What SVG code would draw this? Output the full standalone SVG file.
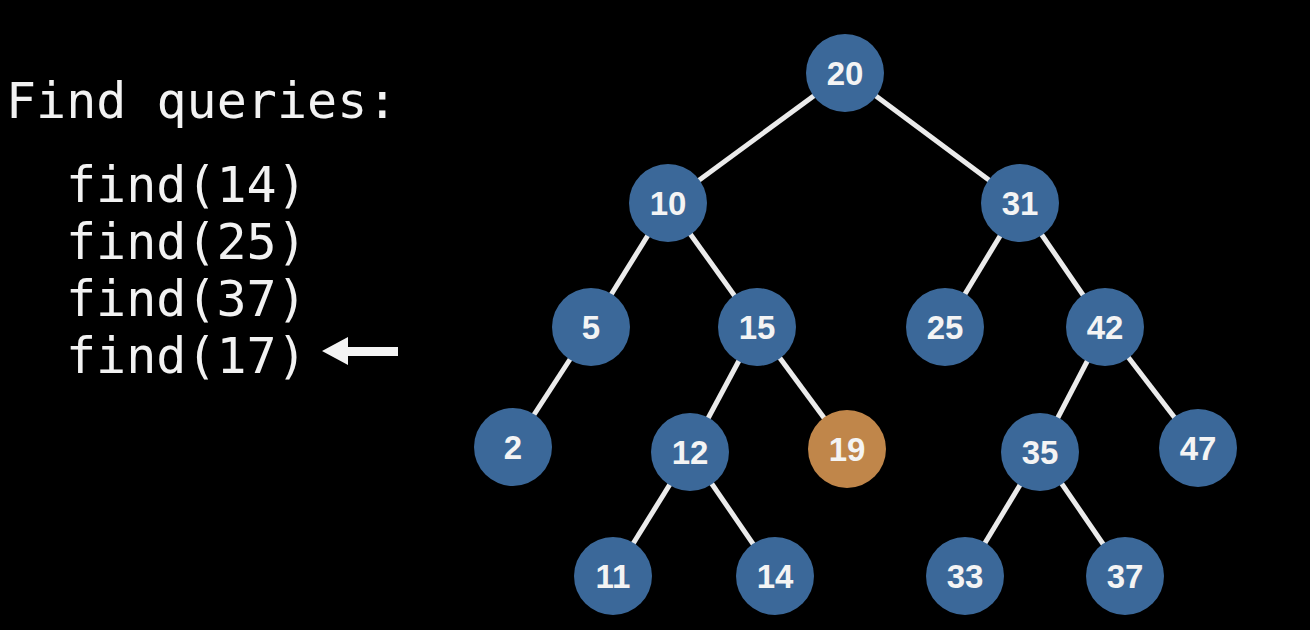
<svg xmlns="http://www.w3.org/2000/svg" width="1310" height="630" viewBox="0 0 1310 630">
  <style>
    .code { font-family: "DejaVu Sans Mono", "Liberation Mono", monospace; font-size: 50px; fill: #f2f2f2; }
    .edge { stroke: #ebebeb; stroke-width: 5; stroke-linecap: butt; }
    .node circle { fill: #3b6899; }
    .node.hit circle { fill: #c0864a; }
    .node text { font-family: "Liberation Sans", Arial, sans-serif; font-weight: bold; font-size: 33px; fill: #f4f4f4; text-anchor: middle; }
  </style>
  <rect width="1310" height="630" fill="#000"/>

  <!-- query list -->
  <g id="queries">
    <text class="code" x="6" y="118">Find queries:</text>
    <text class="code" x="66" y="202">find(14)</text>
    <text class="code" x="66" y="259">find(25)</text>
    <text class="code" x="66" y="316">find(37)</text>
    <text class="code" x="66" y="373">find(17)</text>
    <polygon points="322,351 348,337 348,347 398,347 398,356 348,356 348,365" fill="#f4f4f4"/>
  </g>

  <!-- tree edges -->
  <g id="edges">
    <line class="edge" x1="845" y1="73" x2="668" y2="203"/>
    <line class="edge" x1="845" y1="73" x2="1020" y2="203"/>
    <line class="edge" x1="668" y1="203" x2="591" y2="327"/>
    <line class="edge" x1="668" y1="203" x2="757" y2="327"/>
    <line class="edge" x1="1020" y1="203" x2="945" y2="327"/>
    <line class="edge" x1="1020" y1="203" x2="1105" y2="327"/>
    <line class="edge" x1="591" y1="327" x2="513" y2="447"/>
    <line class="edge" x1="757" y1="327" x2="690" y2="452"/>
    <line class="edge" x1="757" y1="327" x2="847" y2="449"/>
    <line class="edge" x1="1105" y1="327" x2="1040" y2="452"/>
    <line class="edge" x1="1105" y1="327" x2="1198" y2="448"/>
    <line class="edge" x1="690" y1="452" x2="613" y2="576"/>
    <line class="edge" x1="690" y1="452" x2="775" y2="576"/>
    <line class="edge" x1="1040" y1="452" x2="965" y2="576"/>
    <line class="edge" x1="1040" y1="452" x2="1125" y2="576"/>
  </g>

  <!-- tree nodes -->
  <g id="n20" class="node"><circle cx="845" cy="73" r="39"/><text x="845" y="85">20</text></g>
  <g id="n10" class="node"><circle cx="668" cy="203" r="39"/><text x="668" y="215">10</text></g>
  <g id="n31" class="node"><circle cx="1020" cy="203" r="39"/><text x="1020" y="215">31</text></g>
  <g id="n5" class="node"><circle cx="591" cy="327" r="39"/><text x="591" y="339">5</text></g>
  <g id="n15" class="node"><circle cx="757" cy="327" r="39"/><text x="757" y="339">15</text></g>
  <g id="n25" class="node"><circle cx="945" cy="327" r="39"/><text x="945" y="339">25</text></g>
  <g id="n42" class="node"><circle cx="1105" cy="327" r="39"/><text x="1105" y="339">42</text></g>
  <g id="n2" class="node"><circle cx="513" cy="447" r="39"/><text x="513" y="459">2</text></g>
  <g id="n12" class="node"><circle cx="690" cy="452" r="39"/><text x="690" y="464">12</text></g>
  <g id="n19" class="node hit"><circle cx="847" cy="449" r="39"/><text x="847" y="461">19</text></g>
  <g id="n35" class="node"><circle cx="1040" cy="452" r="39"/><text x="1040" y="464">35</text></g>
  <g id="n47" class="node"><circle cx="1198" cy="448" r="39"/><text x="1198" y="460">47</text></g>
  <g id="n11" class="node"><circle cx="613" cy="576" r="39"/><text x="613" y="588">11</text></g>
  <g id="n14" class="node"><circle cx="775" cy="576" r="39"/><text x="775" y="588">14</text></g>
  <g id="n33" class="node"><circle cx="965" cy="576" r="39"/><text x="965" y="588">33</text></g>
  <g id="n37" class="node"><circle cx="1125" cy="576" r="39"/><text x="1125" y="588">37</text></g>
</svg>
